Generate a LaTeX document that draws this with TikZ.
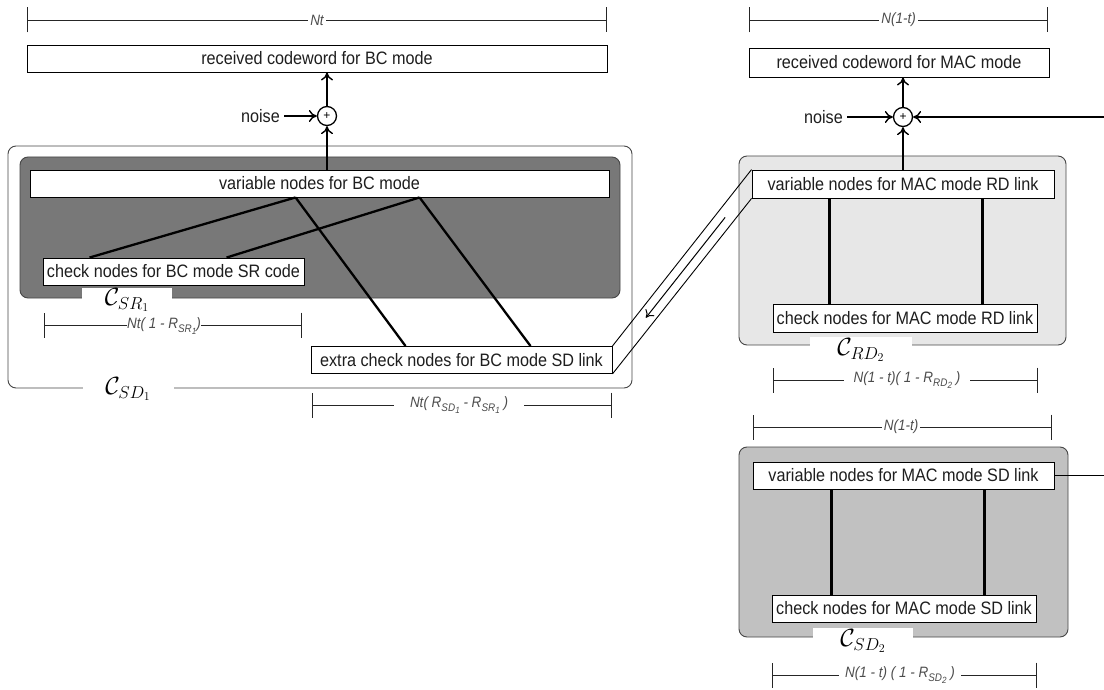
\documentclass[tikz,border=0pt]{standalone}
\usepackage{fontspec}
\usepackage{graphicx}
\setmainfont{Liberation Sans}
\usetikzlibrary{arrows.meta,calc}
\newcommand\sq[1]{\scalebox{0.9}[1]{#1}}
\newcommand\dsub[2]{\raisebox{-0.5ex}{\fontsize{11}{11}\selectfont #1\raisebox{-0.45ex}{\fontsize{9}{9}\selectfont #2}}}
\definecolor{darkfill}{RGB}{120,120,120}
\definecolor{lightfill}{RGB}{231,231,231}
\definecolor{midfill}{RGB}{193,193,193}
\definecolor{edgegray}{RGB}{70,70,70}
\definecolor{txt}{RGB}{30,30,30}
\begin{document}
\begin{tikzpicture}[x=1pt,y=-1pt,
  tbox/.style={draw=black, fill=white, line width=0.9pt, inner sep=0pt, text=txt,
    font=\fontsize{18}{20}\selectfont},
  region/.style={draw=edgegray, line width=0.9pt, rounded corners=8pt, inner sep=0pt},
  conn/.style={line width=2.3pt, black},
  arr/.style={line width=1.4pt, -{To[length=8pt,width=12pt]}},
  plus/.style={circle, draw=black, line width=1.3pt, fill=white, minimum size=19pt, inner sep=0pt,
    font=\fontsize{12}{12}\selectfont},
  noiselbl/.style={inner sep=0pt, text=txt, font=\fontsize{18}{20}\selectfont},
  dim/.style={line width=0.8pt, black!85, {Bar[width=25pt]}-{Bar[width=25pt]}},
  dimlbl/.style={fill=white, inner sep=2pt, text=black!70, font=\itshape\fontsize{15}{17}\selectfont},
  clbl/.style={fill=white, inner sep=0pt, font=\fontsize{24}{26}\selectfont},
  pipe/.style={line width=0.9pt, black},
  pipearr/.style={line width=1pt, -{To[length=7pt,width=11pt]}}
]
\useasboundingbox (0,0) rectangle (1104,690);

% ---------------- left part ----------------
\node[region, fill=white, minimum width=624pt, minimum height=242pt] (csdonebox) at (320,267) {};
\node[region, fill=darkfill, minimum width=600pt, minimum height=141pt] (csronebox) at (320,227.5) {};

\node[tbox, minimum width=580pt, minimum height=27pt] (rbc) at (317,58.5) {\sq{received codeword for BC mode}};
\node[plus] (plusone) at (327,116) {+};
\node[noiselbl, anchor=east] (noiseone) at (280,116) {\sq{noise}};
\node[tbox, minimum width=579pt, minimum height=27pt] (varbc) at (319.5,183.5) {\sq{variable nodes for BC mode}};
\node[tbox, minimum width=261pt, minimum height=27pt] (chkbc) at (173.5,271.5) {\sq{check nodes for BC mode SR code}};
\node[tbox, minimum width=301pt, minimum height=27pt] (extra) at (461.5,360) {\sq{extra check nodes for BC mode SD link}};

\draw[arr] (plusone.north) -- (plusone |- rbc.south);
\draw[arr] (noiseone.east) ++(4,0) -- (plusone.west);
\draw[arr] (plusone |- varbc.north) -- (plusone.south);

\draw[conn] ($(varbc.south west)+(266,0)$) -- ($(chkbc.north west)+(47,0)$);
\draw[conn] ($(varbc.south west)+(390,0)$) -- ($(chkbc.north west)+(184,0)$);
\draw[conn] ($(varbc.south west)+(266,0)$) -- ($(extra.north west)+(95,0)$);
\draw[conn] ($(varbc.south west)+(390,0)$) -- ($(extra.north west)+(220,0)$);

\node[clbl, minimum width=90pt, minimum height=20pt] (csrone) at (127,300) {$\mathcal{C}_{SR_1}$};
\node[clbl, minimum width=91pt, minimum height=24pt] (csdone) at (128,389) {$\mathcal{C}_{SD_1}$};

% dimensions left
\coordinate (ntl) at (27,20); \coordinate (ntr) at (607,20);
\draw[dim] (ntl) -- (ntr);
\node[dimlbl] (ntlbl) at ($(ntl)!0.5!(ntr)$) {\sq{Nt}};

\coordinate (srl) at (44,325); \coordinate (srr) at (302,325);
\draw[dim] (srl) -- (srr);
\node[dimlbl, inner sep=0.5pt] (srlbl) at (164,326) {\sq{Nt( 1 - R\dsub{SR}{1})}};

\coordinate (sdl) at (312,405); \coordinate (sdr) at (612,405);
\draw[dim] (sdl) -- (sdr);
\node[dimlbl, inner xsep=16pt] (sdlbl) at (459,405) {\sq{Nt( R\dsub{SD}{1} - R\dsub{SR}{1} )}};

% ---------------- right part ----------------
\node[region, fill=lightfill, minimum width=327pt, minimum height=189pt] (rdbox) at (902.5,250.5) {};
\node[region, fill=midfill, minimum width=329pt, minimum height=190pt] (sdbox) at (903.5,542) {};

\node[tbox, minimum width=300pt, minimum height=29pt] (rmac) at (899,62.5) {\sq{received codeword for MAC mode}};
\node[plus] (plustwo) at (903,117) {+};
\node[noiselbl, anchor=east] (noisetwo) at (843,117) {\sq{noise}};
\node[tbox, minimum width=302pt, minimum height=28pt] (rdvar) at (903,184) {\sq{variable nodes for MAC mode RD link}};
\node[tbox, minimum width=264pt, minimum height=28pt] (rdchk) at (905,318) {\sq{check nodes for MAC mode RD link}};
\node[tbox, minimum width=301pt, minimum height=27pt] (sdvar) at (903.5,475.5) {\sq{variable nodes for MAC mode SD link}};
\node[tbox, minimum width=264pt, minimum height=27pt] (sdchk) at (904,608.5) {\sq{check nodes for MAC mode SD link}};

\coordinate (edgeone) at (1104,117);
\coordinate (edgetwo) at (1104,475.5);

\draw[arr] (plustwo.north) -- (plustwo |- rmac.south);
\draw[arr] (noisetwo.east) ++(4,0) -- (plustwo.west);
\draw[arr] (plustwo |- rdvar.north) -- (plustwo.south);
\draw[arr] (edgeone) -- (plustwo.east);
\draw[line width=1.2pt] (sdvar.east) -- (edgetwo);

\draw[conn] ($(rdvar.south west)+(78,0)$) -- ($(rdchk.north west)+(57,0)$);
\draw[conn] ($(rdvar.south west)+(231,0)$) -- ($(rdchk.north west)+(210,0)$);
\draw[conn] ($(sdvar.south west)+(79,0)$) -- ($(sdchk.north west)+(60,0)$);
\draw[conn] ($(sdvar.south west)+(232,0)$) -- ($(sdchk.north west)+(213,0)$);

\node[clbl, minimum width=102pt, minimum height=26pt] (crdtwo) at (861,350) {$\mathcal{C}_{RD_2}$};
\node[clbl, minimum width=100pt, minimum height=26pt] (csdtwo) at (863,641) {$\mathcal{C}_{SD_2}$};

% dimensions right
\coordinate (ntal) at (749,20); \coordinate (ntar) at (1048,20);
\draw[dim] (ntal) -- (ntar);
\node[dimlbl] (ntalbl) at ($(ntal)!0.5!(ntar)$) {\sq{N(1-t)}};

\coordinate (rdl) at (773,380); \coordinate (rdr) at (1038,380);
\draw[dim] (rdl) -- (rdr);
\node[dimlbl, inner xsep=10pt] (rdlbl) at (907,380) {\sq{N(1 - t)( 1 - R\dsub{RD}{2} )}};

\coordinate (ntbl) at (753,427); \coordinate (ntbr) at (1052,427);
\draw[dim] (ntbl) -- (ntbr);
\node[dimlbl] (ntblbl) at (901,427) {\sq{N(1-t)}};

\coordinate (sdtl) at (772,675); \coordinate (sdtr) at (1037,675);
\draw[dim] (sdtl) -- (sdtr);
\node[dimlbl, inner xsep=6pt] (sdtlbl) at (900,675) {\sq{N(1 - t) ( 1 - R\dsub{SD}{2} )}};

% ---------------- pipe between extra check nodes and RD variable nodes ----------------
\draw[pipe] (extra.north east) -- (rdvar.north west);
\draw[pipe] (extra.south east) -- (rdvar.south west);
\draw[pipearr] ($(extra.east)!0.81!(rdvar.west)$) -- ($(extra.east)!0.24!(rdvar.west)$);
\end{tikzpicture}
\end{document}
